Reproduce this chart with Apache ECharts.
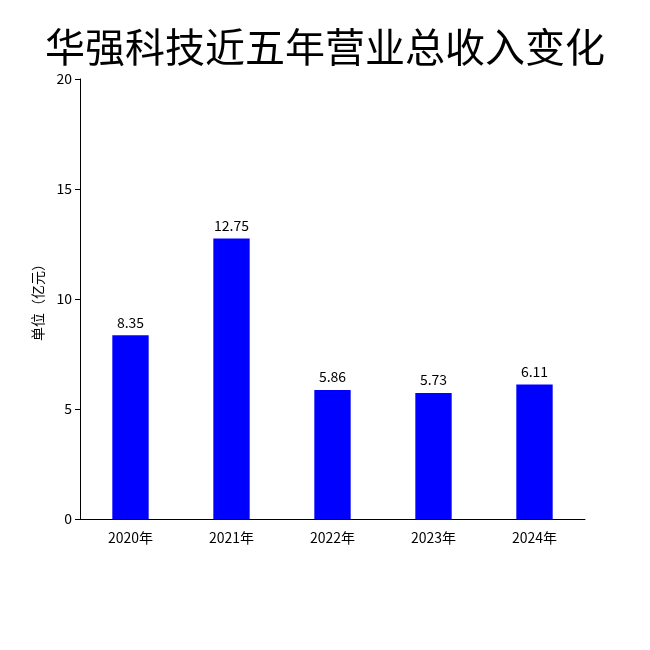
<!DOCTYPE html>
<html><head><meta charset="utf-8">
<script src="https://cdn.jsdelivr.net/npm/echarts@6/dist/echarts.min.js"></script>
<style>body{margin:0}#c{width:650px;height:650px}</style></head>
<body><div id="c"></div>
<script>
const categories = ['2020年','2021年','2022年','2023年','2024年'];
const revenue = [8.35, 12.75, 5.86, 5.73, 6.11];
const yTicks = [0, 5, 10, 15, 20];
const font = '"Noto Sans CJK SC", "DejaVu Sans", sans-serif';
const chart = echarts.init(document.getElementById('c'));
chart.setOption({
  animation: false,
  backgroundColor: '#fff',
  title: { text: '华强科技近五年营业总收入变化', left: 'center', top: 22,
    textStyle: { fontSize: 40, fontWeight: 'normal', color: '#000', fontFamily: font } },
  grid: { left: 80, right: 65, top: 79, bottom: 131 },
  xAxis: { type: 'category', data: categories,
    axisLine: { lineStyle: { color: '#000' } },
    axisTick: { alignWithLabel: true, lineStyle: { color: '#000' } },
    axisLabel: { color: '#000', fontSize: 14, fontFamily: font, margin: 12 } },
  yAxis: { type: 'value', min: yTicks[0], max: yTicks[yTicks.length-1], interval: 5,
    name: '单位（亿元）', nameLocation: 'middle', nameGap: 35,
    nameTextStyle: { color: '#000', fontSize: 14, fontFamily: font },
    splitLine: { show: false },
    axisLine: { show: true, lineStyle: { color: '#000' } },
    axisTick: { show: true, lineStyle: { color: '#000' } },
    axisLabel: { color: '#000', fontSize: 14, fontFamily: font } },
  series: [{ type: 'bar', data: revenue, barWidth: '36%',
    itemStyle: { color: '#0000ff' },
    label: { show: true, position: 'top', color: '#000', fontSize: 14, fontFamily: font, distance: 6 } }]
});
</script></body></html>
